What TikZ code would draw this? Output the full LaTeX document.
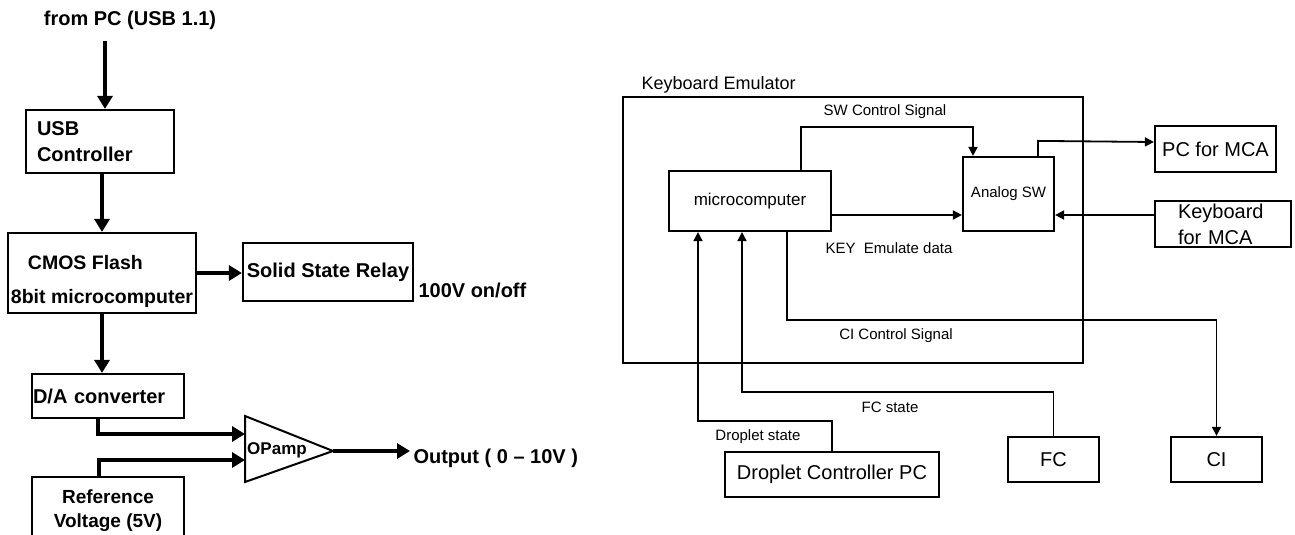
\documentclass[tikz,border=0pt]{standalone}
\usepackage{fontspec}
\setmainfont{Liberation Sans}
\usetikzlibrary{arrows.meta,calc}

\begin{document}
\begin{tikzpicture}[x=1pt, y=-1pt,
  lbox/.style={draw, line width=2.2pt, inner sep=0pt, font=\bfseries\fontsize{20}{26}\selectfont},
  rbox/.style={draw, line width=2.2pt, inner sep=0pt, font=\fontsize{20}{26}\selectfont},
  fatarrow/.style={line width=3.6pt, -{Triangle[length=13pt, width=15pt]}},
  thinarrow/.style={line width=1.8pt, -{Triangle[length=9pt, width=9pt]}},
  sig/.style={font=\fontsize{15}{18}\selectfont}]
\useasboundingbox (0,0) rectangle (1295,535);
  \node[font=\bfseries\fontsize{20}{24}\selectfont] (fromPC) at (130,20) {from PC (USB 1.1)};
  \node[lbox, minimum width=148pt, minimum height=63pt, align=left, text width=126pt] (usb) at (100,141.5) {USB\\Controller};
  \node[lbox, minimum width=188pt, minimum height=80pt, align=left, font=\bfseries\fontsize{19.5}{34}\selectfont] (cmos) at (102,273) {\rule{0pt}{32pt}\hspace*{17pt}CMOS Flash\\8bit microcomputer};
  \node[lbox, minimum width=170pt, minimum height=58pt] (ssr) at (328,272) {Solid State Relay};
  \node[font=\bfseries\fontsize{20}{24}\selectfont, anchor=west] (relay) at (415,290) {100V on/off};
  \node[lbox, minimum width=152pt, minimum height=44pt, align=left, text width=150pt] (da) at (108,396) {D/A converter};
  \node[lbox, minimum width=152pt, minimum height=68pt, align=center, font=\bfseries\fontsize{19}{24}\selectfont] (ref) at (108,511) {Reference\\Voltage (5V)};
  \draw[line width=2pt] (245,416) -- (333,451) -- (245,482) -- cycle;
  \node[font=\bfseries\fontsize{17}{20}\selectfont] (opamp) at (277,450) {OPamp};
  \coordinate (oain1) at (245,434);
  \coordinate (oain2) at (245,460);
  \coordinate (oaout) at (333,451);
  \node[font=\bfseries\fontsize{20}{24}\selectfont, anchor=west] (output) at (410,458) {Output ( 0 -- 10V )};
  \draw[fatarrow] ($(fromPC.south -| usb.north)+(5,8)$) -- ($(usb.north)+(5,0)$);
  \draw[fatarrow] (cmos.north |- usb.south) -- (cmos.north);
  \draw[fatarrow] (cmos.east) -- (cmos.east -| ssr.west);
  \draw[fatarrow] (cmos.south) -- (cmos.south |- da.north);
  \draw[fatarrow] ([xshift=-10pt]da.south) |- (oain1);
  \draw[fatarrow] ([xshift=-9pt]ref.north) |- (oain2);
  \draw[fatarrow] (oaout) -- (oaout -| output.west);
  \node[draw, line width=1.8pt, minimum width=460pt, minimum height=266pt, inner sep=0pt] (emu) at (853,230) {};
  \node[font=\fontsize{18}{20}\selectfont, anchor=west] (emutitle) at (638,85) {Keyboard Emulator};
  \node[rbox, minimum width=162pt, minimum height=60pt, font=\fontsize{17}{20}\selectfont] (micro) at (750,201) {microcomputer};
  \node[rbox, minimum width=91pt, minimum height=74pt, font=\fontsize{15}{18}\selectfont] (asw) at (1008.5,194) {Analog SW};
  \node[rbox, minimum width=121pt, minimum height=46pt] (pcmca) at (1215.5,149) {PC for MCA};
  \node[rbox, minimum width=136pt, minimum height=46pt, align=left, text width=90pt] (kbd) at (1223,224) {Keyboard\\for MCA};
  \node[rbox, minimum width=214pt, minimum height=45pt] (drop) at (832,474.5) {Droplet Controller PC};
  \node[rbox, minimum width=91pt, minimum height=45pt] (fc) at (1053.5,459.5) {FC};
  \node[rbox, minimum width=91pt, minimum height=45pt] (ci) at (1216.5,459.5) {CI};
  \node[sig] (swlabel) at (885,112) {SW Control Signal};
  \node[sig] (keylabel) at (889,248) {KEY\ \ Emulate data};
  \node[sig] (cilabel) at (896,336) {CI Control Signal};
  \node[sig] (fclabel) at (890,407) {FC state};
  \node[sig] (droplabel) at (758,437) {Droplet state};
  \draw[thinarrow] ([xshift=51pt]micro.north) -- ++(0,-43) -| ([xshift=-35.5pt]asw.north);
  \draw[thinarrow] ($(micro.east)+(0,14)$) -- ($(micro.east -| asw.west)+(0,14)$);
  \draw[thinarrow] ([xshift=29.5pt]asw.north) -- ++(0,-15) -- ($(pcmca.west)+(0,-7)$);
  \draw[thinarrow] ($(kbd.west)+(0,-9)$) -- ($(kbd.west -| asw.east)+(0,-9)$);
  \draw[thinarrow] ([xshift=37pt]micro.south) -- ++(0,88) -| (ci.north);
  \draw[thinarrow] (drop.north) -- ++(0,-30) -| ([xshift=-52pt]micro.south);
  \draw[thinarrow] (fc.north) -- ++(0,-44) -| ([xshift=-8pt]micro.south);
\end{tikzpicture}
\end{document}
